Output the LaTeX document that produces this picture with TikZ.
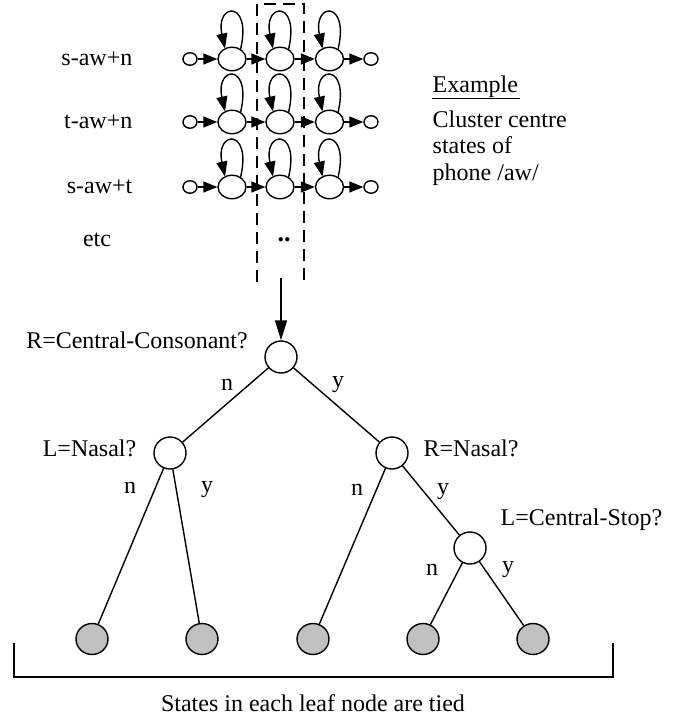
\documentclass[tikz,border=0pt]{standalone}
\usepackage{fontspec}
\setmainfont{Liberation Serif}
\usetikzlibrary{arrows.meta,shapes.geometric,calc}
\begin{document}
\begin{tikzpicture}[x=1pt,y=-1pt,line width=1.4pt,
  lbl/.style={font=\fontsize{24}{26}\selectfont, inner sep=0pt},
  endst/.style={draw, ellipse, minimum width=14pt, minimum height=12.5pt, inner sep=0pt},
  hmmst/.style={draw, ellipse, minimum width=28pt, minimum height=23.5pt, inner sep=0pt},
  qnode/.style={draw, circle, minimum size=32pt, inner sep=0pt, fill=white},
  leaf/.style={draw, ellipse, minimum width=32pt, minimum height=31pt, inner sep=0pt, fill=leafgray},
  harr/.style={-{Triangle[length=14pt,width=11pt]}},
  loopline/.style={-{Triangle[length=15pt,width=11pt]}},
  tedge/.style={line width=1.4pt},
  boxline/.style={line width=2.2pt, dash pattern=on 12pt off 7pt}]
\definecolor{leafgray}{RGB}{192,192,192}
\useasboundingbox (0,0) rectangle (686,723);

% HMM rows
\foreach \r/\yy/\lab in {1/59/s-aw+n, 2/122/t-aw+n, 3/187/s-aw+t}{
  \node[lbl, anchor=east] (lab\r) at (133,\yy) {\lab};
  \node[endst] (s\r) at (190,\yy) {};
  \node[hmmst] (a\r) at (232,\yy) {};
  \node[hmmst] (b\r) at (280,\yy) {};
  \node[hmmst] (c\r) at (329.5,\yy) {};
  \node[endst] (f\r) at (371,\yy) {};
  \draw[harr] (s\r) -- (a\r);
  \draw[harr] (a\r) -- (b\r);
  \draw[harr] (b\r) -- (c\r);
  \draw[harr] (c\r) -- (f\r);
  \foreach \n in {a,b,c}{
    \draw[loopline] ($(\n\r.center)+(8.5,-9.5)$) .. controls +(12,-50) and +(-10,-46) .. ($(\n\r.center)+(-7,-10.5)$);
  }
}
\node[lbl] (etc) at (97,240) {etc};

% dashed box
\coordinate (bxa) at (257,282);
\coordinate (bxb) at (257,4);
\coordinate (bxc) at (304,4);
\coordinate (bxd) at (304,282);
\draw[boxline] (bxa) -- (bxb) -- (bxc) -- (bxd);
\node[font=\bfseries\fontsize{26}{28}\selectfont, inner sep=0pt] (dots) at (284,240) {..};

% example text
\node[lbl, anchor=west] (ex) at (432,87) {Example};
\draw[line width=1.2pt] ($(ex.base west)+(0,6)$) -- ++(88,0);
\node[lbl, anchor=north west, align=left, font=\fontsize{24}{26.5}\selectfont] (cl) at (432,110) {Cluster centre\\states of\\phone /aw/};

% tree
\coordinate (arrtop) at (281,278);
\node[qnode] (root) at (281,357) {};
\draw[-{Triangle[length=20pt,width=12pt]}] (arrtop) -- (root);
\node[lbl] (rq) at (137,340) {R=Central-Consonant?};

\node[qnode] (ln) at (170,453) {};
\node[lbl, anchor=east] (lnq) at (137,448) {L=Nasal?};
\node[qnode] (rn) at (392,453) {};
\node[lbl, anchor=west] (rnq) at (423,448) {R=Nasal?};
\node[qnode] (cs) at (470,548) {};
\node[lbl, anchor=west] (csq) at (500,520) {L=Central-Stop?};

\node[leaf] (l1) at (92,639) {};
\node[leaf] (l2) at (202,639) {};
\node[leaf] (l3) at (313,639) {};
\node[leaf] (l4) at (423,639) {};
\node[leaf] (l5) at (533,639) {};

\draw[tedge] (root) -- (ln);
\draw[tedge] (root) -- (rn);
\draw[tedge] (ln) -- (l1);
\draw[tedge] (ln) -- (l2);
\draw[tedge] (rn) -- (l3);
\draw[tedge] (rn) -- (cs);
\draw[tedge] (cs) -- (l4);
\draw[tedge] (cs) -- (l5);

\node[lbl] (e1) at (227,385) {n};
\node[lbl] (e2) at (338,385) {y};
\node[lbl] (e3) at (130,488) {n};
\node[lbl] (e4) at (207,490) {y};
\node[lbl] (e5) at (357,490) {n};
\node[lbl] (e6) at (443,492) {y};
\node[lbl] (e7) at (432,570) {n};
\node[lbl] (e8) at (508,570) {y};

% bracket
\coordinate (bl) at (14,643);
\coordinate (bl2) at (14,677);
\coordinate (br2) at (613,677);
\coordinate (br) at (613,643);
\draw[line width=1.8pt] (bl) -- (bl2) -- (br2) -- (br);
\node[lbl] (tied) at (313,703) {States in each leaf node are tied};
\end{tikzpicture}
\end{document}
